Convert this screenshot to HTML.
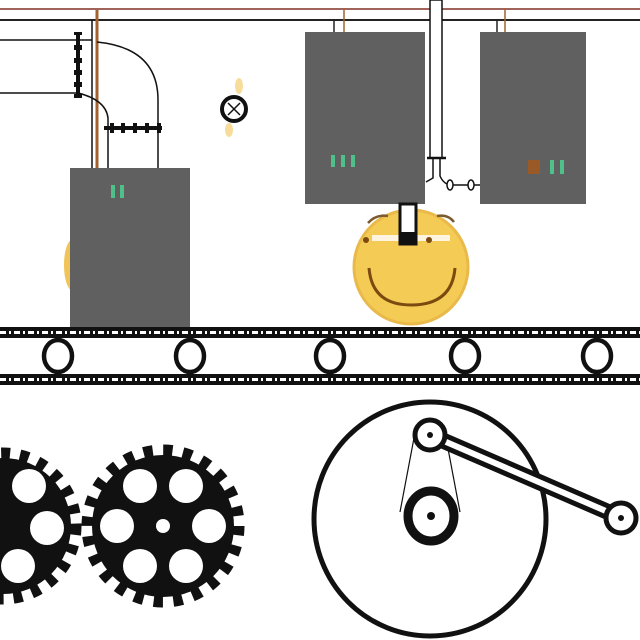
<!DOCTYPE html>
<html><head><style>html,body{margin:0;padding:0;background:#fff}svg{display:block}</style></head>
<body>
<svg width="640" height="640" viewBox="0 0 640 640" xmlns="http://www.w3.org/2000/svg">
<rect width="640" height="640" fill="#fff"/>
<line x1="0" y1="9" x2="640" y2="9" stroke="#a0645a" stroke-width="2"/>
<line x1="0" y1="20" x2="640" y2="20" stroke="#222" stroke-width="2"/>
<line x1="0" y1="40" x2="92" y2="40" stroke="#111" stroke-width="1.5"/>
<line x1="0" y1="93" x2="78" y2="93" stroke="#111" stroke-width="1.5"/>
<line x1="78" y1="32" x2="78" y2="98" stroke="#111" stroke-width="4"/>
<g fill="#111"><rect x="74" y="32" width="8" height="3"/><rect x="74" y="45" width="8" height="5"/><rect x="74" y="58" width="8" height="5"/><rect x="74" y="70" width="8" height="5"/><rect x="74" y="82" width="8" height="5"/><rect x="74" y="94" width="8" height="4"/></g>
<line x1="92" y1="20" x2="92" y2="168" stroke="#111" stroke-width="1.5"/>
<line x1="97" y1="10" x2="97" y2="168" stroke="#a0622e" stroke-width="3"/>
<path d="M97 42 Q158 48 158 100 L158 168" fill="none" stroke="#111" stroke-width="1.5"/>
<path d="M78 93 Q106 100 108 118 L108 168" fill="none" stroke="#111" stroke-width="1.5"/>
<line x1="104" y1="128" x2="162" y2="128" stroke="#111" stroke-width="4"/>
<g fill="#111"><rect x="110" y="123" width="4" height="10"/><rect x="121" y="123" width="4" height="10"/><rect x="133" y="123" width="4" height="10"/><rect x="145" y="123" width="4" height="10"/><rect x="157" y="123" width="4" height="10"/></g>
<ellipse cx="239" cy="86" rx="4" ry="8" fill="#f7dc9a"/>
<ellipse cx="229" cy="130" rx="4" ry="7" fill="#f7dc9a"/>
<circle cx="234" cy="109" r="12" fill="#fff" stroke="#111" stroke-width="4"/>
<path d="M228 103 L240 115 M240 103 L228 115" stroke="#111" stroke-width="1.5"/>
<ellipse cx="72" cy="265" rx="8" ry="25" fill="#f0c458"/>
<rect x="70" y="168" width="120" height="160" fill="#606060"/>
<rect x="111" y="185" width="4" height="13" fill="#4fc08a"/><rect x="120" y="185" width="4" height="13" fill="#4fc08a"/>
<line x1="334" y1="20" x2="334" y2="32" stroke="#222" stroke-width="1.5"/>
<line x1="344" y1="9" x2="344" y2="32" stroke="#a0622e" stroke-width="1.5"/>
<rect x="305" y="32" width="120" height="172" fill="#606060"/>
<rect x="331" y="155" width="4" height="12" fill="#4fc08a"/><rect x="341" y="155" width="4" height="12" fill="#4fc08a"/><rect x="351" y="155" width="4" height="12" fill="#4fc08a"/>
<rect x="430" y="0" width="12" height="158" fill="#fff" stroke="#111" stroke-width="1.5"/>
<line x1="427" y1="158" x2="446" y2="158" stroke="#111" stroke-width="2.5"/>
<path d="M433 158 L433 178 L426 182 M440 158 L440 176 Q444 185 452 185 L480 185" fill="none" stroke="#111" stroke-width="1.5"/>
<ellipse cx="450" cy="185" rx="3" ry="5" fill="#fff" stroke="#111" stroke-width="1.5"/>
<ellipse cx="471" cy="185" rx="3" ry="5" fill="#fff" stroke="#111" stroke-width="1.5"/>
<line x1="497" y1="20" x2="497" y2="32" stroke="#222" stroke-width="1.5"/>
<line x1="505" y1="9" x2="505" y2="32" stroke="#a0622e" stroke-width="1.5"/>
<rect x="480" y="32" width="106" height="172" fill="#606060"/>
<rect x="528" y="160" width="12" height="14" fill="#9a5a28"/>
<rect x="550" y="160" width="4" height="14" fill="#4fc08a"/><rect x="560" y="160" width="4" height="14" fill="#4fc08a"/>
<circle cx="411" cy="267" r="57" fill="#f4cc55"/>
<circle cx="411" cy="267" r="57" fill="none" stroke="#e9b94a" stroke-width="3"/>
<path d="M372 238 L450 238" stroke="#fff4e0" stroke-width="6"/>
<circle cx="366" cy="240" r="3" fill="#7a4a10"/><circle cx="429" cy="240" r="3" fill="#7a4a10"/>
<path d="M368 223 Q376 214 388 216 M437 216 Q448 214 454 222" fill="none" stroke="#7a5a30" stroke-width="2.5"/>
<path d="M369 268 Q372 305 411 305 Q452 305 455 268" fill="none" stroke="#7a4a10" stroke-width="3"/>
<rect x="400" y="204" width="16" height="40" fill="#fff" stroke="#111" stroke-width="3"/>
<rect x="399" y="232" width="18" height="12" fill="#111"/>
<rect x="0" y="327" width="640" height="11" fill="#111"/>
<line x1="0" y1="332.5" x2="640" y2="332.5" stroke="#fff" stroke-width="3" stroke-dasharray="6 3 2 3"/>
<rect x="0" y="374" width="640" height="11" fill="#111"/>
<line x1="0" y1="379.5" x2="640" y2="379.5" stroke="#fff" stroke-width="3" stroke-dasharray="6 3 2 3"/>
<g fill="#fff" stroke="#111" stroke-width="4.5">
<ellipse cx="58" cy="356" rx="14" ry="16"/><ellipse cx="190" cy="356" rx="14" ry="16"/><ellipse cx="330" cy="356" rx="14" ry="16"/><ellipse cx="465" cy="356" rx="14" ry="16"/><ellipse cx="597" cy="356" rx="14" ry="16"/>
</g>
<g>
<circle cx="3" cy="526" r="68" fill="#111"/>
<circle cx="3" cy="526" r="73" fill="none" stroke="#111" stroke-width="11" stroke-dasharray="9 10"/>
<g fill="#fff"><circle cx="47" cy="528" r="17"/><circle cx="29" cy="486" r="17"/><circle cx="18" cy="566" r="17"/><circle cx="-40" cy="526" r="17"/></g>
</g>
<g>
<circle cx="163" cy="526" r="71" fill="#111"/>
<circle cx="163" cy="526" r="76" fill="none" stroke="#111" stroke-width="11" stroke-dasharray="9.4 10.5"/>
<g fill="#fff"><circle cx="163" cy="526" r="7"/>
<circle cx="209" cy="526" r="17"/><circle cx="117" cy="526" r="17"/>
<circle cx="186" cy="486" r="17"/><circle cx="140" cy="486" r="17"/>
<circle cx="186" cy="566" r="17"/><circle cx="140" cy="566" r="17"/></g>
</g>
<ellipse cx="430" cy="519" rx="116" ry="117" fill="none" stroke="#111" stroke-width="5"/>
<line x1="414" y1="438" x2="400" y2="512" stroke="#111" stroke-width="1.2"/>
<line x1="446" y1="438" x2="460" y2="512" stroke="#111" stroke-width="1.2"/>
<line x1="430" y1="435" x2="622" y2="518" stroke="#111" stroke-width="16" stroke-linecap="round"/>
<line x1="430" y1="435" x2="622" y2="518" stroke="#fff" stroke-width="6"/>
<circle cx="430" cy="435" r="15" fill="#fff" stroke="#111" stroke-width="5"/>
<circle cx="430" cy="435" r="3" fill="#111"/>
<circle cx="621" cy="518" r="15" fill="#fff" stroke="#111" stroke-width="5"/>
<circle cx="621" cy="518" r="3" fill="#111"/>
<ellipse cx="431" cy="516" rx="23" ry="25" fill="#fff" stroke="#111" stroke-width="9"/>
<circle cx="431" cy="516" r="4" fill="#111"/>
</svg>
</body></html>
